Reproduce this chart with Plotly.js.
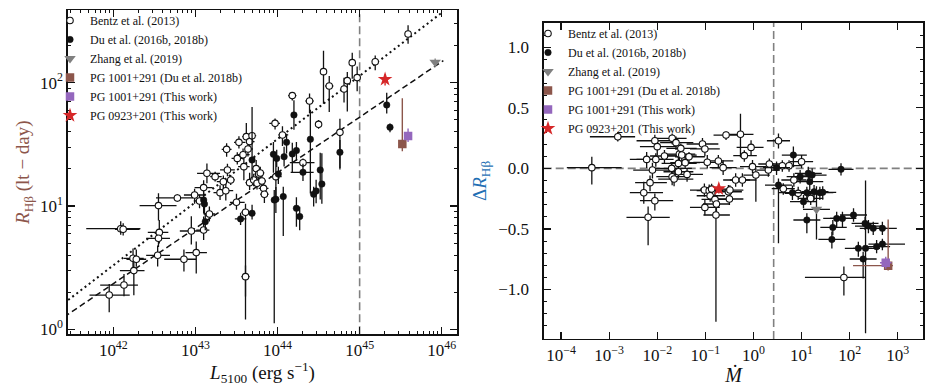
<!DOCTYPE html>
<html><head><meta charset="utf-8">
<script src="https://cdn.plot.ly/plotly-3.0.1.min.js"></script>
<style>html,body{margin:0;padding:0;background:#fff}#chart{width:936px;height:386px}</style>
</head><body><div id="chart"></div>
<script>
// ---------------- Left panel: R_Hbeta vs L5100 (log10 values, errors in dex) ----------------
const bentzLogL = [41.95,42.13,42.09,42.12,42.24,42.28,42.25,42.55,42.56,42.55,42.54,42.78,42.86,42.95,43.01,42.99,43.05,43.10,43.10,43.14,43.17,43.24,43.30,43.34,43.37,43.39,43.38,43.43,43.50,43.51,43.53,43.58,43.59,43.62,43.64,43.66,43.69,43.61,43.61,43.66,43.71,43.74,43.75,43.77,43.79,43.81,43.83,43.84,43.97,43.98,44.06,44.18,44.31,44.39,44.50,44.56,44.63,44.76,44.81,44.85,44.91,44.97,45.19,45.59];
const bentzLogR = [0.278,0.359,0.816,0.811,0.576,0.568,0.476,1.003,0.786,0.738,0.600,1.065,0.568,0.797,0.622,1.089,1.041,1.149,0.805,1.265,0.935,1.238,1.108,1.197,1.124,1.292,1.459,1.211,1.030,1.386,1.516,1.416,1.319,1.562,1.462,1.522,1.570,0.949,0.427,1.189,1.211,1.303,1.184,1.259,1.268,1.203,1.143,1.095,1.670,1.238,1.576,1.895,1.351,1.851,1.662,2.089,1.973,1.597,1.949,2.016,2.162,2.041,2.170,2.395];
const bentzLErrLo = [0.24,0.29,0.42,0.10,0.11,0.12,0.17,0.23,0.14,0.15,0.14,0.26,0.24,0.14,0.13,0.13,0.07,0.11,0.09,0.12,0.07,0.06,0.08,0.08,0.07,0.09,0.06,0.05,0.08,0.07,0.06,0.06,0.07,0.05,0.04,0.04,0.05,0.05,0.05,0.05,0.05,0.05,0.05,0.05,0.05,0.05,0.06,0.05,0.07,0.07,0.05,0.05,0.16,0.05,0.04,0.04,0.05,0.04,0.04,0.04,0.04,0.04,0.04,0.04];
const bentzLErrHi = [0.25,0.17,0.24,0.20,0.13,0.12,0.13,0.22,0.11,0.14,0.15,0.19,0.15,0.14,0.13,0.13,0.09,0.11,0.07,0.16,0.07,0.08,0.08,0.08,0.09,0.09,0.06,0.05,0.10,0.07,0.08,0.08,0.07,0.05,0.06,0.06,0.05,0.05,0.05,0.05,0.05,0.05,0.05,0.05,0.05,0.05,0.06,0.05,0.06,0.07,0.07,0.05,0.14,0.05,0.04,0.04,0.05,0.04,0.04,0.04,0.04,0.04,0.04,0.04];
const bentzRErrHi = [0.09,0.09,0.06,0.05,0.08,0.08,0.09,0.10,0.10,0.07,0.08,0.03,0.08,0.12,0.09,0.05,0.05,0.06,0.11,0.08,0.06,0.04,0.06,0.05,0.07,0.05,0.05,0.04,0.07,0.05,0.05,0.05,0.08,0.11,0.05,0.05,0.03,0.07,0.09,0.08,0.05,0.07,0.05,0.05,0.05,0.05,0.07,0.06,0.04,0.16,0.07,0.03,0.035,0.06,0.035,0.17,0.08,0.11,0.09,0.07,0.08,0.09,0.05,0.07];
const bentzRErrLo = [0.14,0.09,0.05,0.05,0.08,0.06,0.20,0.12,0.09,0.07,0.09,0.03,0.10,0.11,0.17,0.07,0.06,0.07,0.08,0.08,0.06,0.04,0.06,0.07,0.08,0.05,0.06,0.04,0.06,0.05,0.05,0.04,0.11,0.03,0.06,0.05,0.04,0.87,0.16,0.06,0.05,0.07,0.05,0.05,0.05,0.05,0.07,0.07,0.05,0.19,0.09,0.04,0.035,0.10,0.035,0.26,0.21,0.29,0.11,0.25,0.13,0.11,0.07,0.08];

const duLogL = [43.10,43.11,43.12,43.55,43.69,43.69,43.95,43.99,44.01,43.96,43.98,44.07,44.08,44.11,44.18,44.20,44.23,44.23,44.27,44.31,44.40,44.44,44.47,44.52,44.54,44.76,45.33,45.37];
const duLogR = [1.049,1.016,0.873,0.895,0.941,1.373,1.419,1.386,1.259,1.049,1.054,1.076,1.400,1.516,1.422,1.738,0.981,1.449,0.914,1.273,1.541,1.095,1.122,1.292,1.178,1.435,1.819,1.638];
const duLErrLo = [0.03,0.03,0.03,0.07,0.03,0.03,0.03,0.03,0.03,0.03,0.03,0.03,0.03,0.03,0.03,0.03,0.03,0.03,0.03,0.15,0.03,0.03,0.03,0.03,0.03,0.03,0.03,0.03];
const duLErrHi = [0.03,0.03,0.03,0.07,0.03,0.03,0.03,0.03,0.03,0.03,0.03,0.03,0.03,0.03,0.03,0.03,0.03,0.03,0.03,0.13,0.03,0.03,0.03,0.03,0.03,0.03,0.03,0.03];
const duRErrHi = [0.06,0.05,0.07,0.05,0.07,0.43,0.10,0.07,0.06,0.08,0.10,0.08,0.08,0.07,0.09,0.12,0.09,0.07,0.08,0.07,0.24,0.06,0.09,0.14,0.25,0.10,0.10,0.03];
const duRErrLo = [0.11,0.08,0.07,0.05,0.05,0.16,0.15,0.07,0.08,1.00,0.11,0.32,0.08,0.09,0.15,0.12,0.15,0.08,0.11,0.07,0.44,0.10,0.10,0.24,0.16,0.14,0.07,0.04];

const zhangLogL = [45.92], zhangLogR = [2.165], zhangRErrHi = [0.03], zhangRErrLo = [0.04];
const pg1001DuLogL = [45.52], pg1001DuLogR = [1.503], pg1001DuRErrHi = [0.37], pg1001DuRErrLo = [0.06];
const pg1001LogL = [45.59], pg1001LogR = [1.568], pg1001RErrHi = [0.06], pg1001RErrLo = [0.05];
const pg0923LogL = [45.31], pg0923LogR = [2.027], pg0923RErrHi = [0.04], pg0923RErrLo = [0.05];

// reference relations: log R = a + b (log L - 44)
const dottedFit = {a: 1.543, b: 0.512};
const dashedFit = {a: 1.270, b: 0.450};
const fitLogL = [41.40, 46.02];
const lumLimit = 1e45;

// ---------------- Right panel: Delta R vs accretion rate (log10 Mdot, errors in dex) ----------------
const bentzLogM = [-3.36,-2.82,-2.28,-2.19,-2.22,-2.15,-2.10,-2.05,-2.00,-2.05,-2.03,-1.85,-1.69,-1.70,-1.69,-1.65,-1.61,-1.56,-1.54,-1.51,-1.49,-1.42,-1.38,-1.34,-1.56,-1.06,-1.01,-0.96,-1.02,-1.01,-0.92,-0.90,-0.87,-0.80,-0.77,-0.78,-0.73,-0.63,-0.57,-0.52,-0.50,-0.49,-0.37,-0.27,-0.23,-0.19,-0.05,-0.02,0.05,0.31,0.33,0.52,0.60,0.74,0.84,0.93,1.00,1.19,1.88,0.62];
const bentzDR = [0.006,0.261,-0.201,-0.404,0.074,-0.118,-0.014,0.228,0.179,-0.267,0.074,0.102,0.248,0.0,-0.069,-0.088,0.212,0.041,0.118,0.165,0.110,0.047,-0.050,0.096,-0.028,0.201,0.160,0.050,-0.179,-0.322,-0.184,-0.226,-0.171,-0.256,-0.294,-0.385,0.061,0.006,0.275,-0.193,-0.253,-0.179,-0.096,0.281,-0.096,0.105,0.173,0.014,-0.055,-0.014,0.036,0.228,0.022,0.022,-0.096,-0.206,0.055,-0.248,-0.900,-0.168];
const bentzMErrLo = [0.52,0.58,0.29,0.45,0.35,0.31,0.40,0.38,0.36,0.31,0.40,0.30,0.33,0.35,0.33,0.33,0.33,0.35,0.30,0.30,0.31,0.31,0.29,0.29,0.31,0.33,0.31,0.29,0.30,0.31,0.26,0.28,0.24,0.28,0.28,0.26,0.28,0.28,0.26,0.28,0.26,0.24,0.26,0.28,0.26,0.23,0.30,0.26,0.26,0.24,0.23,0.24,0.26,0.26,0.26,0.28,0.24,0.26,0.81,0.24];
const bentzMErrHi = [0.62,0.36,0.40,0.45,0.38,0.35,0.50,0.38,0.40,0.38,0.37,0.40,0.30,0.42,0.37,0.40,0.36,0.38,0.33,0.33,0.31,0.31,0.33,0.33,0.31,0.33,0.31,0.33,0.29,0.31,0.29,0.31,0.31,0.28,0.28,0.29,0.31,0.28,0.29,0.28,0.29,0.28,0.30,0.27,0.29,0.26,0.26,0.29,0.29,0.24,0.26,0.24,0.26,0.26,0.26,0.28,0.24,0.26,0.44,0.24];
const bentzDRErrHi = [0.09,0.04,0.09,0.09,0.06,0.06,0.06,0.05,0.05,0.06,0.05,0.05,0.04,0.04,0.055,0.06,0.05,0.055,0.045,0.04,0.04,0.05,0.05,0.04,0.055,0.05,0.06,0.06,0.055,0.06,0.05,0.045,0.045,0.06,0.06,0.07,0.05,0.06,0.03,0.055,0.06,0.04,0.055,0.17,0.055,0.045,0.06,0.055,0.055,0.055,0.045,0.06,0.045,0.045,0.055,0.055,0.055,0.055,0.09,0.045];
const bentzDRErrLo = [0.14,0.04,0.09,0.23,0.07,0.07,0.07,0.06,0.07,0.08,0.06,0.06,0.05,0.04,0.07,0.06,0.06,0.055,0.05,0.055,0.055,0.05,0.06,0.055,0.055,0.05,0.06,0.05,0.055,0.065,0.06,0.05,0.065,0.06,0.08,0.88,0.06,0.06,0.04,0.07,0.05,0.055,0.055,0.19,0.055,0.05,0.065,0.055,0.22,0.055,0.05,0.065,0.05,0.05,0.055,0.055,0.055,0.055,0.15,0.05];

const duLogM = [0.48,0.52,0.83,0.81,0.97,1.04,1.11,1.11,1.14,1.17,1.22,1.26,1.38,1.44,1.65,1.63,1.73,1.82,1.85,2.08,2.18,2.28,2.33,2.32,2.39,2.49,2.56,2.68,2.68];
const duDR = [0.006,-0.138,0.110,-0.201,-0.069,-0.275,-0.426,-0.201,-0.041,-0.110,-0.055,-0.193,-0.201,-0.198,-0.487,-0.586,-0.413,-0.008,-0.413,-0.385,-0.660,-0.748,-0.660,-0.454,-0.476,-0.495,-0.646,-0.495,-0.625];
const duMErrLo = [0.28,0.28,0.24,0.30,0.28,0.28,0.28,0.28,0.28,0.28,0.26,0.26,0.28,0.28,0.26,0.28,0.28,0.26,0.26,0.28,0.28,0.28,0.26,0.28,0.28,0.28,0.28,0.29,0.29];
const duMErrHi = [0.28,0.28,0.28,0.30,0.28,0.28,0.28,0.28,0.28,0.28,0.30,0.30,0.28,0.28,0.29,0.28,0.28,0.26,0.29,0.28,0.28,0.28,0.30,0.28,0.28,0.28,0.28,0.30,0.47];
const duDRErrHi = [0.05,0.055,0.07,0.06,0.055,0.055,0.055,0.05,0.055,0.07,0.055,0.055,0.05,0.05,0.06,0.065,0.055,0.05,0.055,0.055,0.055,0.06,0.56,0.055,0.05,0.055,0.055,0.055,0.045];
const duDRErrLo = [0.06,0.48,0.10,0.06,0.055,0.055,0.11,0.06,0.055,0.07,0.07,0.07,0.06,0.06,0.065,0.075,0.07,0.05,0.07,0.055,0.07,0.16,0.70,0.055,0.06,0.055,0.055,0.055,0.05];

const zhangLogM = [1.31], zhangDR = [-0.338], zhangMErr = [0.28], zhangDRErrHi = [0.19], zhangDRErrLo = [0.25];
const pg1001DuLogM = [2.80], pg1001DuDR = [-0.803], pg1001DuMErrLo = [0.73], pg1001DuMErrHi = [0.10], pg1001DuDRErrHi = [0.38], pg1001DuDRErrLo = [0.04];
const pg1001LogM = [2.75], pg1001DR = [-0.779], pg1001MErr = [0.12], pg1001DRErr = [0.05];
const pg0923LogM = [-0.72], pg0923DR = [-0.168], pg0923MErr = [0.10], pg0923DRErrHi = [0.03], pg0923DRErrLo = [0.04];
const mdotLimit = Math.pow(10, 0.42);

// tick decades
const leftXDecades = [42,43,44,45,46];
const leftYDecades = [0,1,2];
const rightXDecades = [-4,-3,-2,-1,0,1,2,3];

// ---------------- helpers ----------------
const FONT = 'Liberation Serif, DejaVu Serif, Times New Roman, serif';
const INK = '#111111';
const BROWN = '#8c564b', PURPLE = '#9467bd', RED = '#d62728', GRAY = '#808080';
const p10 = v => Math.pow(10, v);
const lin = a => a.map(p10);
const errPlus = (lg, e) => lg.map((v, i) => p10(v + e[i]) - p10(v));
const errMinus = (lg, e) => lg.map((v, i) => p10(v) - p10(v - e[i]));
const powLabel = e => '10<sup>' + (e < 0 ? '\u2212' + (-e) : e) + '</sup>';
function minorVals(lo, hi) { const out = []; for (let n = lo; n <= hi; n++) for (let d = 2; d <= 9; d++) out.push(d * p10(n)); return out; }

function errBar(plus, minus, color, w) {
  return {type: 'data', symmetric: false, array: plus, arrayminus: minus, color: color || INK, thickness: w || 1.3, width: 0};
}

const openMarker = {symbol: 'circle', size: 6.5, color: '#fff', line: {color: INK, width: 1.1}};
const filledMarker = {symbol: 'circle', size: 6.5, color: INK, line: {color: INK, width: 0.5}};
const triMarker = {symbol: 'triangle-down', size: 10, color: GRAY, line: {width: 0}};
const brownMarker = {symbol: 'square', size: 8.5, color: BROWN, line: {width: 0}};
const purpleMarker = {symbol: 'square', size: 8.5, color: PURPLE, line: {width: 0}};
const starMarker = {symbol: 'star', size: 11, color: RED, line: {width: 0}};

const names = ['Bentz et al. (2013)', 'Du et al. (2016b, 2018b)', 'Zhang et al. (2019)',
  'PG 1001+291 (Du et al. 2018b)', 'PG 1001+291 (This work)', 'PG 0923+201 (This work)'];

const traces = [];
// fit lines (left)
traces.push({x: lin(fitLogL), y: fitLogL.map(l => p10(dottedFit.a + dottedFit.b * (l - 44))), mode: 'lines',
  line: {color: INK, width: 2, dash: '2px,3.2px'}, xaxis: 'x', yaxis: 'y', showlegend: false, hoverinfo: 'skip'});
traces.push({x: lin(fitLogL), y: fitLogL.map(l => p10(dashedFit.a + dashedFit.b * (l - 44))), mode: 'lines',
  line: {color: INK, width: 1.5, dash: '6px,3.5px'}, xaxis: 'x', yaxis: 'y', showlegend: false, hoverinfo: 'skip'});

// left scatter
traces.push({x: lin(bentzLogL), y: lin(bentzLogR), mode: 'markers', name: names[0], marker: openMarker,
  error_x: errBar(errPlus(bentzLogL, bentzLErrHi), errMinus(bentzLogL, bentzLErrLo)),
  error_y: errBar(errPlus(bentzLogR, bentzRErrHi), errMinus(bentzLogR, bentzRErrLo)), xaxis: 'x', yaxis: 'y', legend: 'legend'});
traces.push({x: lin(duLogL), y: lin(duLogR), mode: 'markers', name: names[1], marker: filledMarker,
  error_x: errBar(errPlus(duLogL, duLErrHi), errMinus(duLogL, duLErrLo)),
  error_y: errBar(errPlus(duLogR, duRErrHi), errMinus(duLogR, duRErrLo)), xaxis: 'x', yaxis: 'y', legend: 'legend'});
traces.push({x: lin(zhangLogL), y: lin(zhangLogR), mode: 'markers', name: names[2], marker: triMarker,
  error_y: errBar(errPlus(zhangLogR, zhangRErrHi), errMinus(zhangLogR, zhangRErrLo), GRAY), xaxis: 'x', yaxis: 'y', legend: 'legend'});
traces.push({x: lin(pg1001DuLogL), y: lin(pg1001DuLogR), mode: 'markers', name: names[3], marker: brownMarker,
  error_y: errBar(errPlus(pg1001DuLogR, pg1001DuRErrHi), errMinus(pg1001DuLogR, pg1001DuRErrLo), BROWN, 1.4), xaxis: 'x', yaxis: 'y', legend: 'legend'});
traces.push({x: lin(pg1001LogL), y: lin(pg1001LogR), mode: 'markers', name: names[4], marker: purpleMarker,
  error_y: errBar(errPlus(pg1001LogR, pg1001RErrHi), errMinus(pg1001LogR, pg1001RErrLo), PURPLE, 1.4), xaxis: 'x', yaxis: 'y', legend: 'legend'});
traces.push({x: lin(pg0923LogL), y: lin(pg0923LogR), mode: 'markers', name: names[5], marker: starMarker,
  error_y: errBar(errPlus(pg0923LogR, pg0923RErrHi), errMinus(pg0923LogR, pg0923RErrLo), RED, 1.4), xaxis: 'x', yaxis: 'y', legend: 'legend'});

// right scatter
traces.push({x: lin(bentzLogM), y: bentzDR, mode: 'markers', name: names[0], marker: openMarker,
  error_x: errBar(errPlus(bentzLogM, bentzMErrHi), errMinus(bentzLogM, bentzMErrLo)),
  error_y: errBar(bentzDRErrHi, bentzDRErrLo), xaxis: 'x2', yaxis: 'y2', legend: 'legend2'});
traces.push({x: lin(duLogM), y: duDR, mode: 'markers', name: names[1], marker: filledMarker,
  error_x: errBar(errPlus(duLogM, duMErrHi), errMinus(duLogM, duMErrLo)),
  error_y: errBar(duDRErrHi, duDRErrLo), xaxis: 'x2', yaxis: 'y2', legend: 'legend2'});
traces.push({x: lin(zhangLogM), y: zhangDR, mode: 'markers', name: names[2], marker: triMarker,
  error_x: errBar(errPlus(zhangLogM, zhangMErr), errMinus(zhangLogM, zhangMErr)),
  error_y: errBar(zhangDRErrHi, zhangDRErrLo), xaxis: 'x2', yaxis: 'y2', legend: 'legend2'});
traces.push({x: lin(pg1001DuLogM), y: pg1001DuDR, mode: 'markers', name: names[3], marker: brownMarker,
  error_x: errBar(errPlus(pg1001DuLogM, pg1001DuMErrHi), errMinus(pg1001DuLogM, pg1001DuMErrLo), BROWN, 1.4),
  error_y: errBar(pg1001DuDRErrHi, pg1001DuDRErrLo, BROWN, 1.4), xaxis: 'x2', yaxis: 'y2', legend: 'legend2'});
traces.push({x: lin(pg1001LogM), y: pg1001DR, mode: 'markers', name: names[4], marker: purpleMarker,
  error_x: errBar(errPlus(pg1001LogM, pg1001MErr), errMinus(pg1001LogM, pg1001MErr), PURPLE, 1.4),
  error_y: errBar(pg1001DRErr, pg1001DRErr, PURPLE, 1.4), xaxis: 'x2', yaxis: 'y2', legend: 'legend2'});
traces.push({x: lin(pg0923LogM), y: pg0923DR, mode: 'markers', name: names[5], marker: starMarker,
  error_x: errBar(errPlus(pg0923LogM, pg0923MErr), errMinus(pg0923LogM, pg0923MErr), RED, 1.4),
  error_y: errBar(pg0923DRErrHi, pg0923DRErrLo, RED, 1.4), xaxis: 'x2', yaxis: 'y2', legend: 'legend2'});

const axisBase = {showline: true, linecolor: INK, linewidth: 1.3, mirror: 'allticks', ticks: 'inside',
  ticklen: 7, tickwidth: 1.2, tickcolor: INK, showgrid: false, zeroline: false,
  tickfont: {family: FONT, size: 17, color: INK}};
const minorBase = {ticks: 'inside', ticklen: 3.5, tickwidth: 1, tickcolor: INK, showgrid: false};

const layout = {
  width: 936, height: 386, margin: {l: 0, r: 0, t: 0, b: 0},
  paper_bgcolor: '#fff', plot_bgcolor: '#fff', font: {family: FONT, color: INK},
  xaxis: Object.assign({}, axisBase, {type: 'log', range: [41.444, 46.19], domain: [0.0723, 0.4886], anchor: 'y',
    tickmode: 'array', tickvals: leftXDecades.map(p10), ticktext: leftXDecades.map(powLabel),
    minor: Object.assign({}, minorBase, {tickmode: 'array', tickvals: minorVals(41, 46)}),
    title: {text: '<i>L</i><sub>5100</sub> (erg s<sup>\u22121</sup>)', font: {family: FONT, size: 19, color: INK}, standoff: 4}}),
  yaxis: Object.assign({}, axisBase, {type: 'log', range: [-0.0405, 2.589], domain: [0.1339, 0.9741], anchor: 'x',
    tickmode: 'array', tickvals: leftYDecades.map(p10), ticktext: leftYDecades.map(powLabel),
    minor: Object.assign({}, minorBase, {tickmode: 'array', tickvals: minorVals(0, 2)}),
    title: {text: '<i>R</i><sub>H\u03b2</sub> (lt \u2212 day)', font: {family: FONT, size: 19, color: BROWN}, standoff: 5}}),
  xaxis2: Object.assign({}, axisBase, {type: 'log', range: [-4.36, 3.53], domain: [0.5809, 0.9864], anchor: 'y2',
    tickmode: 'array', tickvals: rightXDecades.map(p10), ticktext: rightXDecades.map(powLabel),
    title: {text: '<i>\u1E40</i>', font: {family: FONT, size: 20, color: INK}, standoff: 4}}),
  yaxis2: Object.assign({}, axisBase, {range: [-1.408, 1.202], domain: [0.1218, 0.9412], anchor: 'x2',
    tickmode: 'linear', tick0: 0, dtick: 0.5, tickformat: '.1f', ticklabelstandoff: 10,
    minor: Object.assign({}, minorBase, {dtick: 0.1}),
    title: {text: '\u0394<i>R</i><sub>H\u03b2</sub>', font: {family: FONT, size: 19, color: '#1f6fb4'}, standoff: 6}}),
  legend: {x: 50 / 936, y: 1 - 6 / 386, xanchor: 'left', yanchor: 'top', bgcolor: 'rgba(0,0,0,0)',
    font: {family: FONT, size: 12, color: INK}, itemwidth: 30, borderwidth: 0},
  legend2: {x: 528 / 936, y: 1 - 19 / 386, xanchor: 'left', yanchor: 'top', bgcolor: 'rgba(0,0,0,0)',
    font: {family: FONT, size: 12, color: INK}, itemwidth: 30, borderwidth: 0},
  shapes: [
    {type: 'line', xref: 'x', yref: 'y domain', x0: lumLimit, x1: lumLimit, y0: 0, y1: 1, layer: 'below',
      line: {color: GRAY, width: 1.6, dash: '8px,4px'}},
    {type: 'line', xref: 'x2', yref: 'y2 domain', x0: mdotLimit, x1: mdotLimit, y0: 0, y1: 1, layer: 'below',
      line: {color: GRAY, width: 1.6, dash: '8px,4px'}},
    {type: 'line', xref: 'x2 domain', yref: 'y2', x0: 0, x1: 1, y0: 0, y1: 0, layer: 'below',
      line: {color: GRAY, width: 1.6, dash: '8px,4px'}}
  ],
  showlegend: true
};

Plotly.newPlot('chart', traces, layout, {staticPlot: true, displayModeBar: false});
</script></body></html>
